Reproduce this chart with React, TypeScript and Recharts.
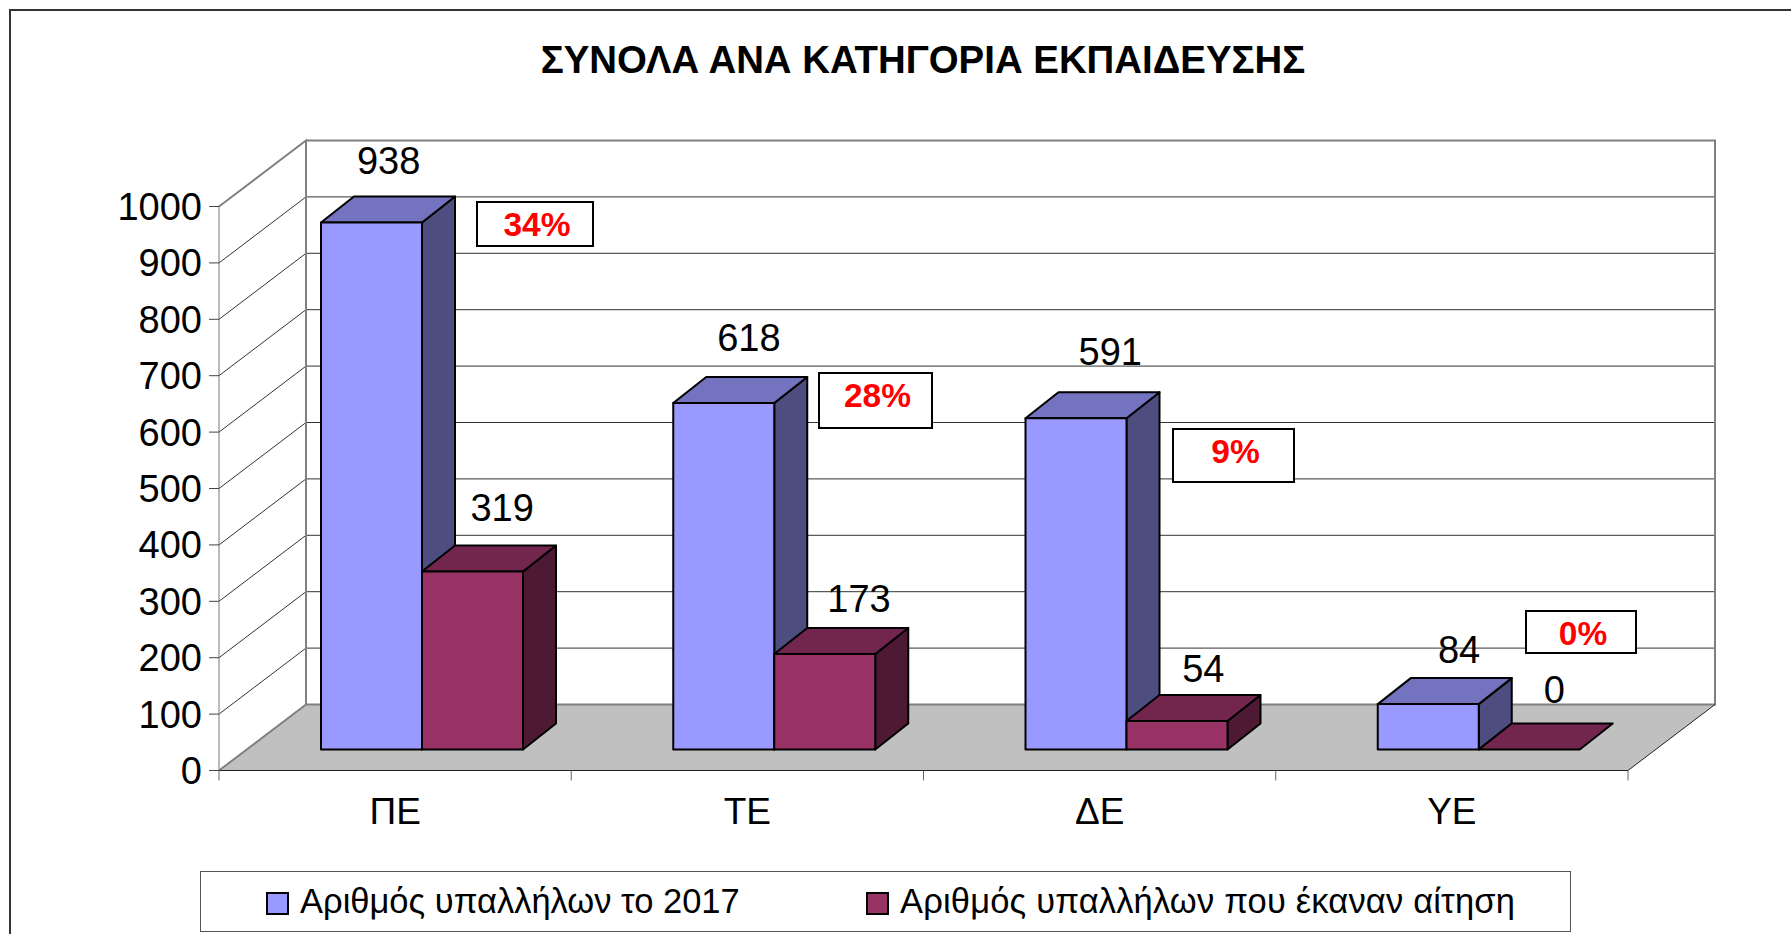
import {
  BarChart,
  Bar,
  XAxis,
  YAxis,
  CartesianGrid,
  LabelList,
  ReferenceArea,
} from 'recharts';

const categories = ['ΠΕ', 'ΤΕ', 'ΔΕ', 'ΥΕ'];
const employees2017 = [938, 618, 591, 84];
const applicants = [319, 173, 54, 0];
const percentages = ['34%', '28%', '9%', '0%'];
const yTicks = [0, 100, 200, 300, 400, 500, 600, 700, 800, 900, 1000];

const SERIES_1 = 'Αριθμός υπαλλήλων το 2017';
const SERIES_2 = 'Αριθμός υπαλλήλων που έκαναν αίτηση';

const chartData = categories.map((name, i) => ({
  name,
  employees: employees2017[i],
  applicants: applicants[i],
}));

const FONT = '"Liberation Sans", Arial, sans-serif';
const FONT_SIZE = 38;

// plot box = the front face of the fake 3d room
const PLOT = { left: 219, right: 1628, top: 206.5, bottom: 770.5 };
const WALL_DX = 87;
const WALL_DY = 66;
const BAR_WIDTH = 101;
const BAR_SHIFT_X = 27;
const BAR_SHIFT_Y = 21;
const BAR_DX = 33;
const BAR_DY = 26;
const BAR_TOP_INSET = 2; // excel's bars stop a touch short of the value
const CAT_WIDTH = (PLOT.right - PLOT.left) / categories.length;

// the value labels were dragged around by hand in the original
const blueNudge = [[15, -52], [22, -55], [30, -56], [27, -46]];
const redNudge = [[26, -54], [30, -46], [23, -44], [22, -52]];

// the same goes for the percent boxes
const boxes = [
  { left: 476, top: 201, width: 118, height: 46 },
  { left: 818, top: 372, width: 115, height: 57 },
  { left: 1172, top: 428, width: 123, height: 55 },
  { left: 1525, top: 610, width: 112, height: 44 },
];

const palette = {
  blue: { front: '#9999FF', side: '#4D4D80', top: '#7373BF' },
  red: { front: '#993366', side: '#4D1933', top: '#73264D' },
};

function Box3D(props: any) {
  const { x, y, width, height, tone } = props;
  const c = palette[tone as 'blue' | 'red'];
  const l = x + BAR_SHIFT_X;
  const r = l + width;
  const b = y - BAR_SHIFT_Y + height;
  const t = y - BAR_SHIFT_Y + (height > 0 ? BAR_TOP_INSET : 0);
  const h = b - t;
  const common = { stroke: '#000', strokeWidth: 2, strokeLinejoin: 'round' as const };
  return (
    <g>
      {h > 0 && (
        <path
          d={`M${r},${t} L${r + BAR_DX},${t - BAR_DY} L${r + BAR_DX},${b - BAR_DY} L${r},${b} Z`}
          fill={c.side}
          {...common}
        />
      )}
      <path
        d={`M${l},${t} L${l + BAR_DX},${t - BAR_DY} L${r + BAR_DX},${t - BAR_DY} L${r},${t} Z`}
        fill={c.top}
        {...common}
      />
      {h > 0 && <rect x={l} y={t} width={width} height={h} fill={c.front} {...common} />}
    </g>
  );
}

function Room(props: any) {
  const { x, y, width, height } = props;
  const right = x + width;
  const bottom = y + height;
  return (
    <g>
      <path
        d={`M${x},${bottom} L${x + WALL_DX},${bottom - WALL_DY} L${right + WALL_DX},${bottom - WALL_DY} L${right},${bottom} Z`}
        fill="#C0C0C0"
      />
      <path
        d={`M${x},${bottom} L${x + WALL_DX},${bottom - WALL_DY} L${x + WALL_DX},${y - WALL_DY} L${x},${y} M${x + WALL_DX},${bottom - WALL_DY} L${right + WALL_DX},${bottom - WALL_DY} L${right + WALL_DX},${y - WALL_DY} L${x + WALL_DX},${y - WALL_DY}`}
        fill="none"
        stroke="#808080"
        strokeWidth={2}
      />
      <path d={`M${right},${bottom} L${right + WALL_DX},${bottom - WALL_DY}`} stroke="#222" strokeWidth={1} />
    </g>
  );
}

function GridLine(props: any) {
  const { x1, x2, y1 } = props;
  if (Math.abs(y1 - PLOT.top) < 1 || Math.abs(y1 - PLOT.bottom) < 1) return null;
  return (
    <path
      key={props.key}
      d={`M${x1},${y1} L${x1 + WALL_DX},${y1 - WALL_DY} L${x2 + WALL_DX},${y1 - WALL_DY}`}
      fill="none"
      stroke="#333"
      strokeWidth={1}
    />
  );
}

function CategoryTick(props: any) {
  const { x, y, payload, index } = props;
  const left = x - CAT_WIDTH / 2;
  return (
    <g>
      <line x1={left} x2={left} y1={PLOT.bottom} y2={PLOT.bottom + 10} stroke="#666" />
      {index === categories.length - 1 && (
        <line x1={left + CAT_WIDTH} x2={left + CAT_WIDTH} y1={PLOT.bottom} y2={PLOT.bottom + 10} stroke="#666" />
      )}
      <text x={x} y={y + 45} textAnchor="middle" fontFamily={FONT} fontSize={37} fill="#000">
        {payload.value}
      </text>
    </g>
  );
}

function makeValueLabel(values: number[], nudge: number[][]) {
  return function ValueLabel(props: any) {
    const { x, y, width, index } = props;
    const [dx, dy] = nudge[index];
    return (
      <text
        x={x + BAR_SHIFT_X + width / 2 + dx * 1.142}
        y={y - BAR_SHIFT_Y + dy * 1.142}
        textAnchor="middle"
        dominantBaseline="central"
        fontFamily={FONT}
        fontSize={FONT_SIZE}
        fill="#000"
      >
        {values[index]}
      </text>
    );
  };
}

function LegendBox() {
  const swatch = (color: string) => (
    <span
      style={{
        display: 'inline-block',
        boxSizing: 'border-box',
        width: 23,
        height: 23,
        background: color,
        border: '2px solid #000',
        marginRight: 11,
        verticalAlign: '-2px',
      }}
    />
  );
  return (
    <div
      style={{
        position: 'absolute',
        left: 200,
        top: 871,
        width: 1371,
        height: 61,
        boxSizing: 'border-box',
        border: '1.5px solid #555',
        fontFamily: FONT,
        fontSize: 34.5,
        color: '#000',
      }}
    >
      <span style={{ position: 'absolute', left: 65, top: 10, whiteSpace: 'nowrap' }}>
        {swatch(palette.blue.front)}
        {SERIES_1}
      </span>
      <span style={{ position: 'absolute', left: 665, top: 10, whiteSpace: 'nowrap', letterSpacing: 0.17 }}>
        {swatch(palette.red.front)}
        {SERIES_2}
      </span>
    </div>
  );
}

export default function App() {
  return (
    <div style={{ position: 'absolute', left: 0, top: 0, width: 1791, height: 934, overflow: 'hidden', background: '#fff' }}>
      <div
        style={{
          position: 'absolute',
          left: 9,
          top: 9,
          width: 1800,
          height: 1000,
          border: '2px solid #333',
        }}
      />
      <div
        style={{
          position: 'absolute',
          left: 0,
          top: 38,
          width: 1846,
          textAlign: 'center',
          fontFamily: FONT,
          fontWeight: 700,
          fontSize: 38.4,
          color: '#000',
        }}
      >
        ΣΥΝΟΛΑ ΑΝΑ ΚΑΤΗΓΟΡΙΑ ΕΚΠΑΙΔΕΥΣΗΣ
      </div>
      <div style={{ position: 'absolute', left: 0, top: 0 }}>
        <BarChart
          width={1791}
          height={934}
          data={chartData}
          barGap={0}
          barSize={BAR_WIDTH}
          margin={{ left: 0, right: 1791 - PLOT.right, top: PLOT.top, bottom: 0 }}
        >
          <ReferenceArea y1={0} y2={1000} shape={Room} />
          <CartesianGrid vertical={false} horizontal={GridLine as any} />
          <XAxis
            dataKey="name"
            height={934 - PLOT.bottom}
            axisLine={{ stroke: '#222' }}
            tickLine={false}
            tick={CategoryTick}
            interval={0}
          />
          <YAxis
            width={PLOT.left}
            domain={[0, 1000]}
            ticks={yTicks}
            interval={0}
            axisLine={{ stroke: '#777' }}
            tickLine={{ stroke: '#444' }}
            tickSize={10}
            tickMargin={7}
            tick={{ fontFamily: FONT, fontSize: FONT_SIZE, fill: '#000' }}
          />
          <Bar dataKey="employees" name={SERIES_1} isAnimationActive={false} shape={(p: any) => <Box3D {...p} tone="blue" />}>
            <LabelList dataKey="employees" content={makeValueLabel(employees2017, blueNudge)} />
          </Bar>
          <Bar dataKey="applicants" name={SERIES_2} isAnimationActive={false} shape={(p: any) => <Box3D {...p} tone="red" />}>
            <LabelList dataKey="applicants" content={makeValueLabel(applicants, redNudge)} />
          </Bar>
        </BarChart>
      </div>
      {percentages.map((label, i) => (
        <div
          key={label}
          style={{
            position: 'absolute',
            ...boxes[i],
            boxSizing: 'border-box',
            background: '#fff',
            border: '2px solid #000',
            color: '#FF0000',
            fontFamily: FONT,
            fontWeight: 700,
            fontSize: 33.5,
            textAlign: 'center',
            lineHeight: '44px',
            paddingLeft: 4,
          }}
        >
          {label}
        </div>
      ))}
      <LegendBox />
    </div>
  );
}
